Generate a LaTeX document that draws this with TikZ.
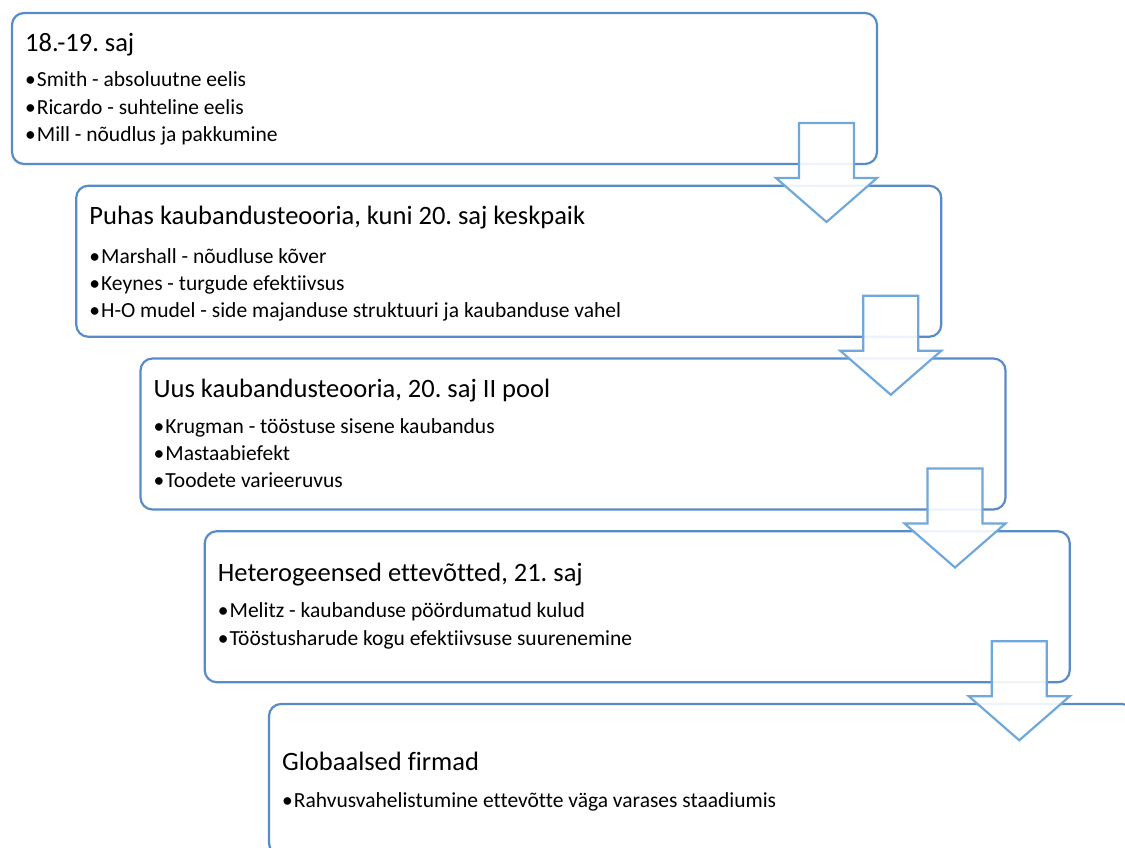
\documentclass[tikz,border=0pt]{standalone}
\usepackage{fontspec}
\setmainfont{Carlito}[Ligatures=NoCommon]
\usetikzlibrary{calc}

\definecolor{boxblue}{RGB}{88,140,200}
\definecolor{arrowblue}{RGB}{112,168,220}

\tikzset{
  stagebox/.style={draw=boxblue,line width=2.2pt,fill=white,rounded corners=12pt,
    minimum width=865pt,minimum height=151pt,outer sep=0pt,inner sep=0pt},
  blockarrow/.style={draw=arrowblue,line width=2.2pt,fill=white,fill opacity=0.9,line join=miter},
  stagetitle/.style={anchor=base west,inner sep=0pt,font=\fontsize{26.5}{30}\selectfont},
  stageitem/.style={anchor=base west,inner sep=0pt,font=\fontsize{21.5}{25}\selectfont}
}
\newcommand{\itemdot}{\makebox[11.7pt][l]{•}}

\begin{document}
\frenchspacing
\begin{tikzpicture}[x=1pt,y=-1pt]
\useasboundingbox (0,0) rectangle (1125,848);
\begin{scope}
\clip (0,0) rectangle (1125,848);

% stages
\node[stagebox] (b0) at (444.5,88.5) {};
\node[stagebox] (b1) at (508.75,261.25) {};
\node[stagebox] (b2) at (573,434) {};
\node[stagebox] (b3) at (637.25,606.75) {};
\node[stagebox] (b4) at (701.5,779.5) {};

\node[stagetitle] (t0) at ($(b0.north west)+(13,38.5)$) {18.-19. saj};
\node[stageitem] at ($(b0.north west)+(13,74)$) {\itemdot Smith - absoluutne eelis};
\node[stageitem] at ($(b0.north west)+(13,101.5)$) {\itemdot Ricardo - suhteline eelis};
\node[stageitem] at ($(b0.north west)+(13,128.5)$) {\itemdot Mill - nõudlus ja pakkumine};

\node[stagetitle] (t1) at ($(b1.north west)+(13,39)$) {Puhas kaubandusteooria, kuni 20. saj keskpaik};
\node[stageitem] at ($(b1.north west)+(13,78)$) {\itemdot Marshall - nõudluse kõver};
\node[stageitem] at ($(b1.north west)+(13,105)$) {\itemdot Keynes - turgude efektiivsus};
\node[stageitem] at ($(b1.north west)+(13,132)$) {\itemdot H-O mudel - side majanduse struktuuri ja kaubanduse vahel};

\node[stagetitle] (t2) at ($(b2.north west)+(13,39)$) {Uus kaubandusteooria, 20. saj II pool};
\node[stageitem] at ($(b2.north west)+(13,75)$) {\itemdot Krugman - tööstuse sisene kaubandus};
\node[stageitem] at ($(b2.north west)+(13,102)$) {\itemdot Mastaabiefekt};
\node[stageitem] at ($(b2.north west)+(13,129)$) {\itemdot Toodete varieeruvus};

\node[stagetitle] (t3) at ($(b3.north west)+(13,50)$) {Heterogeensed ettevõtted, 21. saj};
\node[stageitem] at ($(b3.north west)+(13,86)$) {\itemdot Melitz - kaubanduse pöördumatud kulud};
\node[stageitem] at ($(b3.north west)+(13,114)$) {\itemdot Tööstusharude kogu efektiivsuse suurenemine};

\node[stagetitle] (t4) at ($(b4.north west)+(13,66)$) {Globaalsed firmad};
\node[stageitem] at ($(b4.north west)+(13,103)$) {\itemdot Rahvusvahelistumine ettevõtte väga varases staadiumis};

% arrows between stages
\foreach \i in {0,...,3}{
  \draw[blockarrow,shift={($(b\i.south east)+(-50.5,0)$)}]
    (-27.5,-41) -- (27.5,-41) -- (27.5,14) -- (50.5,14) -- (0,58)
    -- (-50.5,14) -- (-27.5,14) -- cycle;
}
\end{scope}
\end{tikzpicture}
\end{document}
